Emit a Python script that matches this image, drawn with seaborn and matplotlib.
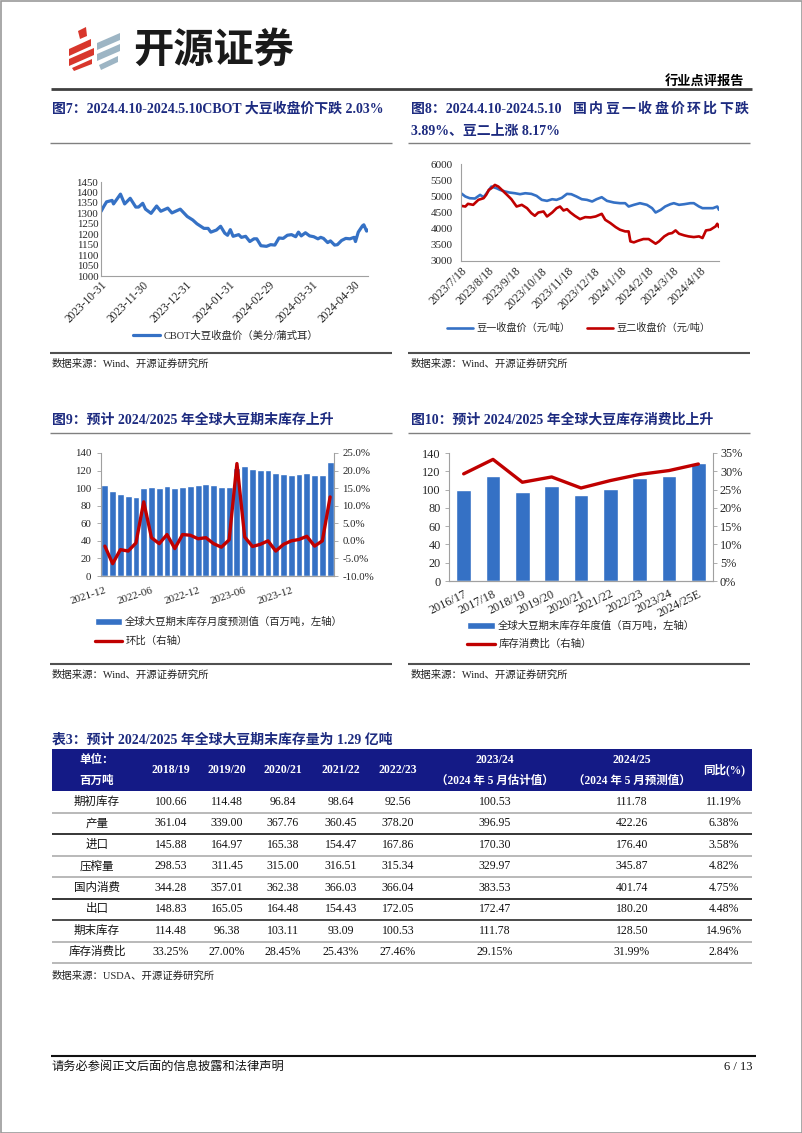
import numpy as np
import pandas as pd
import matplotlib
matplotlib.use("Agg")
import matplotlib.pyplot as plt
from matplotlib.patches import Rectangle, Polygon
import matplotlib.ticker as mticker
import seaborn as sns

sns.set_style("white")
plt.rcParams['font.family'] = ['Liberation Serif', 'Noto Sans CJK SC', 'DejaVu Sans']

W, H = 802, 1133
NAVY = "#1d2b80"
HEAD = "#141a86"
BLUE = "#3571c5"
RED = "#c00000"
AXC = "#a0a0a0"
CJK = ['Liberation Serif', 'Noto Sans CJK SC', 'DejaVu Sans']

# ---------------- data ----------------
# fig 7: CBOT soybean close (US cents / bushel)
cbot_dates = ["2023-10-31", "2023-11-02", "2023-11-04", "2023-11-08", "2023-11-09", "2023-11-14",
              "2023-11-17", "2023-11-21", "2023-11-25", "2023-11-27", "2023-11-30", "2023-12-02",
              "2023-12-06", "2023-12-10", "2023-12-13", "2023-12-18", "2023-12-21", "2023-12-27",
              "2024-01-01", "2024-01-05", "2024-01-08", "2024-01-13", "2024-01-16", "2024-01-18",
              "2024-01-22", "2024-01-25", "2024-01-28", "2024-01-30", "2024-02-01", "2024-02-03",
              "2024-02-07", "2024-02-09", "2024-02-12", "2024-02-15", "2024-02-18", "2024-02-20",
              "2024-02-23", "2024-02-27", "2024-03-01", "2024-03-04", "2024-03-07", "2024-03-10",
              "2024-03-13", "2024-03-16", "2024-03-19", "2024-03-21", "2024-03-23", "2024-03-26",
              "2024-03-29", "2024-04-01", "2024-04-04", "2024-04-06", "2024-04-08", "2024-04-11",
              "2024-04-13", "2024-04-16", "2024-04-18", "2024-04-21", "2024-04-24", "2024-04-27",
              "2024-04-30", "2024-05-01", "2024-05-03", "2024-05-06", "2024-05-07", "2024-05-09",
              "2024-05-10"]
cbot_price = [1309, 1333, 1355, 1362, 1345, 1392, 1345, 1372, 1330, 1330, 1348, 1320,
              1300, 1335, 1310, 1325, 1302, 1320, 1285, 1268, 1250, 1228, 1228, 1210,
              1220, 1238, 1205, 1195, 1222, 1190, 1198, 1185, 1190, 1165, 1178, 1178,
              1145, 1142, 1150, 1148, 1182, 1180, 1195, 1198, 1188, 1210, 1192, 1207,
              1192, 1188, 1178, 1185, 1180, 1160, 1168, 1148, 1150, 1170, 1180, 1178,
              1185, 1165, 1210, 1240, 1245, 1215, 1220]
cbot_ticks = ["2023-10-31", "2023-11-30", "2023-12-31", "2024-01-31", "2024-02-29",
              "2024-03-31", "2024-04-30"]

# fig 8: DCE soybean No.1 / No.2 close (yuan / t)
d1_dates = ["2023-07-18", "2023-07-23", "2023-07-28", "2023-08-03", "2023-08-09", "2023-08-13",
            "2023-08-18", "2023-08-22", "2023-08-28", "2023-09-01", "2023-09-07", "2023-09-12",
            "2023-09-18", "2023-09-24", "2023-09-30", "2023-10-07", "2023-10-13", "2023-10-19",
            "2023-10-25", "2023-10-31", "2023-11-05", "2023-11-11", "2023-11-17", "2023-11-22",
            "2023-11-28", "2023-12-04", "2023-12-10", "2023-12-16", "2023-12-21", "2023-12-27",
            "2024-01-02", "2024-01-10", "2024-01-17", "2024-01-23", "2024-01-27", "2024-02-02",
            "2024-02-09", "2024-02-17", "2024-02-23", "2024-02-27", "2024-03-04", "2024-03-09",
            "2024-03-15", "2024-03-19", "2024-03-25", "2024-03-31", "2024-04-07", "2024-04-11",
            "2024-04-17", "2024-04-21", "2024-04-27", "2024-05-03", "2024-05-08", "2024-05-10"]
d1_price = [5096, 4994, 4942, 4932, 5045, 4973, 5148, 5302, 5250, 5199, 5148, 5117,
            5096, 5066, 5096, 5076, 5014, 4891, 4860, 4911, 4891, 4953, 5076, 5066,
            4994, 4911, 4891, 4840, 4911, 4973, 4860, 4809, 4788, 4788, 4685, 4737,
            4788, 4737, 4634, 4500, 4583, 4685, 4757, 4788, 4737, 4757, 4788, 4788,
            4685, 4634, 4634, 4634, 4685, 4583]
d2_dates = ["2023-07-18", "2023-07-23", "2023-07-26", "2023-08-01", "2023-08-07", "2023-08-13",
            "2023-08-16", "2023-08-19", "2023-08-22", "2023-08-26", "2023-08-30", "2023-09-03",
            "2023-09-09", "2023-09-14", "2023-09-20", "2023-09-26", "2023-10-02", "2023-10-07",
            "2023-10-11", "2023-10-15", "2023-10-21", "2023-10-25", "2023-10-31", "2023-11-05",
            "2023-11-09", "2023-11-13", "2023-11-17", "2023-11-21", "2023-11-26", "2023-12-02",
            "2023-12-08", "2023-12-14", "2023-12-20", "2023-12-27", "2023-12-31", "2024-01-06",
            "2024-01-12", "2024-01-17", "2024-01-23", "2024-01-27", "2024-01-29", "2024-02-02",
            "2024-02-07", "2024-02-13", "2024-02-19", "2024-02-23", "2024-02-27", "2024-03-02",
            "2024-03-08", "2024-03-13", "2024-03-17", "2024-03-21", "2024-03-25", "2024-03-31",
            "2024-04-05", "2024-04-11", "2024-04-17", "2024-04-21", "2024-04-25", "2024-04-30",
            "2024-05-06", "2024-05-08", "2024-05-10"]
d2_price = [4706, 4685, 4768, 4737, 4891, 4942, 5045, 5199, 5250, 5353, 5302, 5199,
            5045, 4911, 4685, 4737, 4634, 4480, 4398, 4500, 4531, 4377, 4500, 4634,
            4685, 4562, 4603, 4500, 4398, 4295, 4357, 4347, 4377, 4459, 4275, 4172,
            4049, 3967, 3915, 3915, 3607, 3576, 3628, 3679, 3679, 3607, 3535, 3607,
            3761, 3843, 3864, 3946, 3843, 3792, 3761, 3740, 3761, 3710, 3946, 3967,
            4069, 4151, 4049]
dce_ticks = ["2023-07-18", "2023-08-18", "2023-09-18", "2023-10-18", "2023-11-18",
             "2023-12-18", "2024-01-18", "2024-02-18", "2024-03-18", "2024-04-18"]
dce_tick_labels = ["2023/7/18", "2023/8/18", "2023/9/18", "2023/10/18", "2023/11/18",
                   "2023/12/18", "2024/1/18", "2024/2/18", "2024/3/18", "2024/4/18"]

# fig 9: monthly forecast of world ending stocks (Mt) and m/m change (%)
stock_months = ["2021-12", "2022-01", "2022-02", "2022-03", "2022-04", "2022-05",
                "2022-06", "2022-07", "2022-08", "2022-09", "2022-10", "2022-11",
                "2022-12", "2023-01", "2023-02", "2023-03", "2023-04", "2023-05",
                "2023-06", "2023-07", "2023-08", "2023-09", "2023-10", "2023-11",
                "2023-12", "2024-01", "2024-02", "2024-03", "2024-04", "2024-05"]
stock_monthly = [103.2, 96.4, 93.7, 91.0, 90.3, 100.5, 101.3, 100.5, 102.4, 99.8,
                 101.3, 102.8, 103.6, 104.7, 103.2, 100.9, 101.3, 122.9, 124.8, 121.8,
                 120.3, 120.3, 116.8, 115.7, 115.3, 115.7, 116.8, 115.3, 115.3, 129.4]
stock_mom = [-1.5, -6.5, -2.5, -2.9, -0.6, 11.1, 0.9, -0.8, 1.8, -2.2,
             1.8, 1.6, 0.6, 0.9, -0.8, -1.8, 0.3, 22.0, 1.1, -1.6,
             -1.0, 0.0, -2.9, -1.0, 0.0, 0.4, 1.3, -1.5, 0.0, 12.5]
stock_tick_labels = ["2021-12", "2022-06", "2022-12", "2023-06", "2023-12"]

# fig 10: annual world ending stocks (Mt) and stocks-to-use (%)
seasons = ["2016/17", "2017/18", "2018/19", "2019/20", "2020/21", "2021/22",
           "2022/23", "2023/24", "2024/25E"]
stock_annual = [99.8, 115.2, 96.8, 103.6, 93.8, 101.0, 112.8, 115.2, 129.0]
stock_use = [29.3, 33.25, 27.00, 28.45, 25.43, 27.46, 29.15, 30.2, 31.99]

# table 3
tbl_years = ["2018/19", "2019/20", "2020/21", "2021/22", "2022/23"]
tbl_rows = ["期初库存", "产量", "进口", "压榨量", "国内消费", "出口", "期末库存", "库存消费比"]
tbl_vals = [
    ["100.66", "114.48", "96.84", "98.64", "92.56", "100.53", "111.78", "11.19%"],
    ["361.04", "339.00", "367.76", "360.45", "378.20", "396.95", "422.26", "6.38%"],
    ["145.88", "164.97", "165.38", "154.47", "167.86", "170.30", "176.40", "3.58%"],
    ["298.53", "311.45", "315.00", "316.51", "315.34", "329.97", "345.87", "4.82%"],
    ["344.28", "357.01", "362.38", "366.03", "366.04", "383.53", "401.74", "4.75%"],
    ["148.83", "165.05", "164.48", "154.43", "172.05", "172.47", "180.20", "4.48%"],
    ["114.48", "96.38", "103.11", "93.09", "100.53", "111.78", "128.50", "14.96%"],
    ["33.25%", "27.00%", "28.45%", "25.43%", "27.46%", "29.15%", "31.99%", "2.84%"],
]

# ---------------- page ----------------
fig = plt.figure(figsize=(W / 100, H / 100), dpi=100)
pg = fig.add_axes([0, 0, 1, 1])
pg.set_xlim(0, W)
pg.set_ylim(H, 0)
pg.axis('off')


def ax_at(x0, y0, x1, y1):
    a = fig.add_axes([x0 / W, 1 - y1 / H, (x1 - x0) / W, (y1 - y0) / H])
    a.set_facecolor('none')
    return a


def txt(x, y, s, size=8, **kw):
    kw.setdefault('va', 'center')
    pg.text(x, y, s, fontsize=size, family=CJK, **kw)


def hline(y, x0, x1, color="#808080", lw=1.0):
    pg.plot([x0, x1], [y, y], color=color, lw=lw, solid_capstyle='butt')


def style_axes(a, left=True, right=False, bottom=True):
    for side, on in (("left", left), ("right", right), ("bottom", bottom), ("top", False)):
        a.spines[side].set_visible(on)
        a.spines[side].set_color(AXC)
        a.spines[side].set_linewidth(0.8)
    a.set_xlabel('')
    a.set_ylabel('')


# page frame
pg.add_patch(Rectangle((0.5, 0.5), W - 1, H - 1, fill=False, ec="#9a9a9a", lw=1.2))

# logo
for pts in [[(78, 31), (86, 27), (87, 36), (80, 39)],
            [(69, 49), (91, 39), (91, 46), (69, 56)],
            [(69, 59), (94, 48), (94, 55), (69, 66)],
            [(72, 68), (92, 59), (92, 64), (74, 71)]]:
    pg.add_patch(Polygon(pts, closed=True, fc="#d8372c", ec='none'))
for pts in [[(97, 43), (120, 33), (120, 40), (97, 50)],
            [(97, 54), (120, 44), (120, 51), (97, 61)],
            [(99, 65), (118, 56), (118, 62), (101, 70)]]:
    pg.add_patch(Polygon(pts, closed=True, fc="#9db5c4", ec='none'))
pg.text(133, 50, "开源证券", fontsize=29, weight='bold', family=['Noto Sans CJK SC'],
        color="#1a1a1a", va='center')
txt(744, 81, "行业点评报告", 9.5, ha='right', weight='bold', color='black')
hline(89, 51, 752, color="#404040", lw=2.0)

# titles row 1
txt(52, 109, "图7：2024.4.10-2024.5.10CBOT 大豆收盘价下跌 2.03%", 10, weight='bold', color=NAVY)
txt(411, 109, "图8：2024.4.10-2024.5.10", 10, weight='bold', color=NAVY)
# justified tail of the fig 8 title
for k, ch in enumerate("国内豆一收盘价环比下跌"):
    txt(580 + 16.2 * k, 109, ch, 10, weight='bold', color=NAVY, ha='center')
txt(411, 131, "3.89%、豆二上涨 8.17%", 10, weight='bold', color=NAVY)
hline(143, 50, 392)
hline(143, 408, 750)
hline(353, 50, 392, color="#505050", lw=1.5)
hline(353, 408, 750, color="#505050", lw=1.5)
txt(52, 364, "数据来源：Wind、开源证券研究所", 7.5, color='#222222')
txt(411, 364, "数据来源：Wind、开源证券研究所", 7.5, color='#222222')

# ---------------- fig 7 ----------------
ax7 = ax_at(101, 182, 368, 276)
df7 = pd.DataFrame({"date": pd.to_datetime(cbot_dates), "price": cbot_price})
sns.lineplot(data=df7, x="date", y="price", ax=ax7, color=BLUE, lw=2.3)
ax7.set_xlim(pd.Timestamp("2023-10-31"), pd.Timestamp("2024-05-10"))
ax7.set_ylim(1000, 1450)
ax7.set_yticks(range(1000, 1451, 50))
ax7.set_xticks(pd.to_datetime(cbot_ticks))
ax7.set_xticklabels(cbot_ticks, rotation=45, ha='right', rotation_mode='anchor')
style_axes(ax7)
ax7.tick_params(direction='in', length=3, width=0.6, color=AXC, labelsize=7.8, pad=2)
ax7.tick_params(axis='x', labelsize=8.3)
ax7.legend(handles=ax7.lines[:1], labels=["CBOT大豆收盘价（美分/蒲式耳）"], loc='center left',
           bbox_to_anchor=(133 / W, 1 - 336 / H), bbox_transform=fig.transFigure,
           frameon=False, fontsize=7.5, handlelength=2.6, handletextpad=0.3,
           borderpad=0, borderaxespad=0)

# ---------------- fig 8 ----------------
ax8 = ax_at(461, 164, 719, 261)
df8a = pd.DataFrame({"date": pd.to_datetime(d1_dates), "price": d1_price})
df8b = pd.DataFrame({"date": pd.to_datetime(d2_dates), "price": d2_price})
sns.lineplot(data=df8a, x="date", y="price", ax=ax8, color=BLUE, lw=1.9)
sns.lineplot(data=df8b, x="date", y="price", ax=ax8, color=RED, lw=1.9)
ax8.set_xlim(pd.Timestamp("2023-07-18"), pd.Timestamp("2024-05-10"))
ax8.set_ylim(3000, 6000)
ax8.set_yticks(range(3000, 6001, 500))
ax8.set_xticks(pd.to_datetime(dce_ticks))
ax8.set_xticklabels(dce_tick_labels, rotation=45, ha='right', rotation_mode='anchor')
style_axes(ax8)
ax8.tick_params(direction='in', length=3, width=0.6, color=AXC, labelsize=8, pad=3)
ax8.tick_params(axis='x', labelsize=8.5)
ax8.tick_params(axis='y', pad=6)
ax8.legend(handles=ax8.lines[:2], labels=["豆一收盘价（元/吨）", "豆二收盘价（元/吨）"],
           loc='center left', ncol=2, bbox_to_anchor=(447 / W, 1 - 328 / H),
           bbox_transform=fig.transFigure, frameon=False, fontsize=7.3, handlelength=2.6,
           handletextpad=0.3, columnspacing=1.6, borderpad=0, borderaxespad=0)

# titles row 2
txt(52, 420, "图9：预计 2024/2025 年全球大豆期末库存上升", 10, weight='bold', color=NAVY)
txt(411, 420, "图10：预计 2024/2025 年全球大豆库存消费比上升", 10, weight='bold', color=NAVY)
hline(433, 50, 392)
hline(433, 408, 750)
hline(664, 50, 392, color="#505050", lw=1.5)
hline(664, 408, 750, color="#505050", lw=1.5)
txt(52, 675, "数据来源：Wind、开源证券研究所", 7.5, color='#222222')
txt(411, 675, "数据来源：Wind、开源证券研究所", 7.5, color='#222222')

# ---------------- fig 9 ----------------
ax9 = ax_at(101, 453, 334, 576)
sns.barplot(x=stock_months, y=stock_monthly, ax=ax9, color=BLUE, width=0.88, saturation=1)
ax9.set_ylim(0, 140)
ax9.set_yticks(range(0, 141, 20))
ax9b = ax9.twinx()
ax9b.set_facecolor('none')
sns.lineplot(x=np.arange(len(stock_mom)), y=stock_mom, ax=ax9b, color=RED, lw=2.4)
ax9b.set_ylim(-10, 25)
ax9b.set_yticks(range(-10, 26, 5))
ax9b.yaxis.set_major_formatter(mticker.FuncFormatter(lambda v, p: f"{v:.1f}%"))
ax9.set_xlim(-0.5, len(stock_months) - 0.5)
ax9.set_xticks([0, 6, 12, 18, 24])
ax9.set_xticklabels(stock_tick_labels, rotation=18, ha='right', rotation_mode='anchor')
style_axes(ax9, right=False)
style_axes(ax9b, left=False, right=True)
ax9.tick_params(axis='y', direction='out', length=3, width=0.6, color=AXC, labelsize=7.8, pad=4)
ax9.tick_params(axis='x', length=0, labelsize=8, pad=7)
ax9b.tick_params(axis='y', direction='out', length=3, width=0.6, color=AXC, labelsize=7.8, pad=3)
ax9b.legend(handles=[ax9.patches[0], ax9b.lines[0]],
            labels=["全球大豆期末库存月度预测值（百万吨，左轴）", "环比（右轴）"],
            loc='upper left', bbox_to_anchor=(95 / W, 1 - 617 / H), bbox_transform=fig.transFigure,
            frameon=False, fontsize=7.5, handlelength=2.6, handletextpad=0.3,
            labelspacing=0.85, borderpad=0, borderaxespad=0)

# ---------------- fig 10 ----------------
ax10 = ax_at(449, 453, 713, 581)
sns.barplot(x=seasons, y=stock_annual, ax=ax10, color=BLUE, width=0.5, saturation=1)
ax10.set_ylim(0, 140)
ax10.set_yticks(range(0, 141, 20))
ax10b = ax10.twinx()
ax10b.set_facecolor('none')
sns.lineplot(x=np.arange(len(stock_use)), y=stock_use, ax=ax10b, color=RED, lw=2.4)
ax10b.set_ylim(0, 35)
ax10b.set_yticks(range(0, 36, 5))
ax10b.yaxis.set_major_formatter(mticker.FuncFormatter(lambda v, p: f"{v:.0f}%"))
ax10.set_xlim(-0.5, len(seasons) - 0.5)
ax10.set_xticks(range(len(seasons)))
ax10.set_xticklabels(seasons, rotation=26, ha='right', rotation_mode='anchor')
style_axes(ax10)
style_axes(ax10b, left=False, right=True)
ax10.tick_params(axis='y', direction='out', length=3, width=0.6, color=AXC, labelsize=8.8, pad=3)
ax10.tick_params(axis='x', length=0, labelsize=8.8, pad=5)
ax10b.tick_params(axis='y', direction='out', length=3, width=0.6, color=AXC, labelsize=8.8, pad=2)
ax10b.legend(handles=[ax10.patches[0], ax10b.lines[0]],
             labels=["全球大豆期末库存年度值（百万吨，左轴）", "库存消费比（右轴）"],
             loc='upper left', bbox_to_anchor=(467 / W, 1 - 621 / H), bbox_transform=fig.transFigure,
             frameon=False, fontsize=7.5, handlelength=2.7, handletextpad=0.3,
             labelspacing=0.75, borderpad=0, borderaxespad=0)

# ---------------- table 3 ----------------
txt(52, 740, "表3：预计 2024/2025 年全球大豆期末库存量为 1.29 亿吨", 10, weight='bold', color=NAVY)
pg.add_patch(Rectangle((51.5, 749), 700.5, 42, fc=HEAD, ec='none'))
col_x = [97, 171, 227, 283, 341, 398, 495, 632, 724]
hk = dict(color='white', weight='bold', ha='center')
txt(col_x[0], 760, "单位：", 8.3, **hk)
txt(col_x[0], 781, "百万吨", 8.3, **hk)
for cx, yr in zip(col_x[1:6], tbl_years):
    txt(cx, 770, yr, 8.5, **hk)
txt(col_x[6], 760, "2023/24", 8.5, **hk)
txt(col_x[6], 781, "（2024 年 5 月估计值）", 8.3, **hk)
txt(col_x[7], 760, "2024/25", 8.5, **hk)
txt(col_x[7], 781, "（2024 年 5 月预测值）", 8.3, **hk)
txt(col_x[8], 770, "同比(%)", 8.3, **hk)
row_line = ["#a6a6a6", "#000000", "#a6a6a6", "#a6a6a6", "#000000", "#1a1a1a", "#a6a6a6", "#a6a6a6"]
row_h = 21.5
for i, (name, vals) in enumerate(zip(tbl_rows, tbl_vals)):
    yc = 791 + row_h * (i + 0.5)
    txt(col_x[0], yc, name, 8.3, ha='center', color='#111111')
    for cx, v in zip(col_x[1:], vals):
        txt(cx, yc, v, 8.5, ha='center', color='#111111')
    hline(791 + row_h * (i + 1), 51.5, 752, color=row_line[i], lw=1.1)
txt(52, 976, "数据来源：USDA、开源证券研究所", 7.5, color='#222222')

# footer
hline(1056, 51, 756, color="#111111", lw=1.5)
txt(51, 1067, "请务必参阅正文后面的信息披露和法律声明", 8.8, color='#111111')
txt(752, 1067, "6 / 13", 9, ha='right', color='#111111')

fig.savefig("out.png", dpi=100)
